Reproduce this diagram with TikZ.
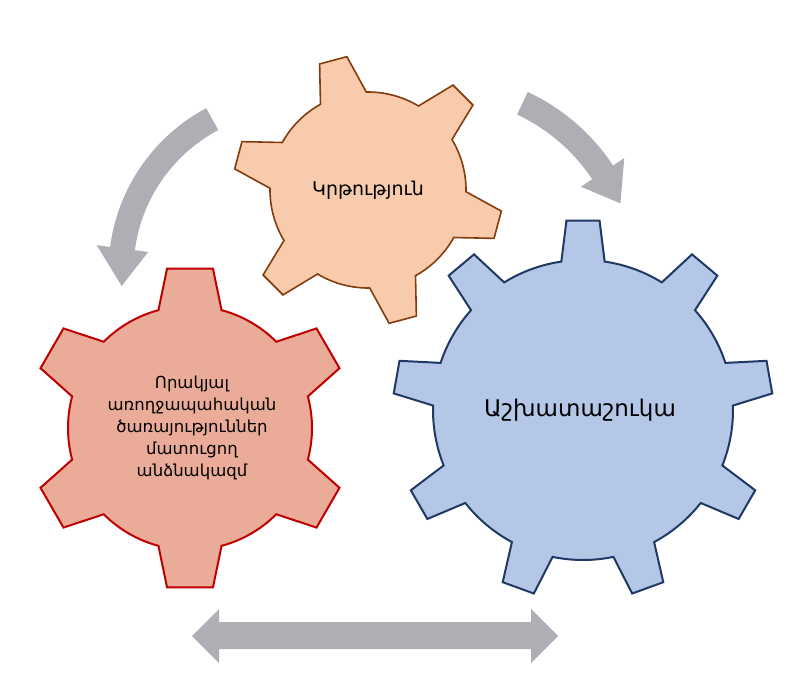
\documentclass[tikz,border=0pt]{standalone}
\usepackage{fontspec}
\setmainfont{DejaVu Sans}
\definecolor{orfill}{HTML}{F8CBAD}
\definecolor{ordraw}{HTML}{843C0C}
\definecolor{blfill}{HTML}{B4C7E7}
\definecolor{bldraw}{HTML}{203864}
\definecolor{rdfill}{HTML}{EAAB99}
\definecolor{rddraw}{HTML}{C00000}
\definecolor{arr}{HTML}{ADAFB5}
\newcommand\mygear[9]{%
\begin{scope}[shift={(#2,#3)}]
\draw[#1] ({#9-#7}:#5)
 \foreach \i in {1,...,#4}{
  -- ({#9+(\i-1)*360/#4-#7}:#5) -- ({#9+(\i-1)*360/#4-#8}:#6)
  -- ({#9+(\i-1)*360/#4+#8}:#6) -- ({#9+(\i-1)*360/#4+#7}:#5)
  arc[start angle={#9+(\i-1)*360/#4+#7}, end angle={#9+\i*360/#4-#7}, radius=#5]
 } -- cycle;
\end{scope}}
\tikzset{lbl/.style={align=center,text=black}}
\begin{document}
\begin{tikzpicture}[x=1pt,y=-1pt]
\useasboundingbox (0,0) rectangle (811,698);
% curved arrows
\begin{scope}[shift={(293,271)}]
\draw[arr,line width=25pt] (242:172) arc[start angle=242,end angle=187,radius=172];
\fill[arr] (187.5:146) -- (187.5:198) -- (175:172) -- cycle;
\end{scope}
\begin{scope}[shift={(440,280)}]
\draw[arr,line width=25pt] (-65:195) arc[start angle=-65,end angle=-33,radius=195];
\fill[arr] (-33.5:169) -- (-33.5:221) -- (-23:196) -- cycle;
\end{scope}
% double arrow
\fill[arr] (192,636) -- (219,609) -- (219,622) -- (531,622) -- (531,609) -- (558,636)
 -- (531,663) -- (531,649) -- (219,649) -- (219,663) -- cycle;
% gears
\mygear{fill=rdfill,draw=rddraw,line width=2pt}{190}{428}{6}{122}{161}{15}{8.2}{-90}
\mygear{fill=orfill,draw=ordraw,line width=1.6pt}{368}{190}{6}{98}{135}{14}{6}{15}
\mygear{fill=blfill,draw=bldraw,line width=2pt}{583}{410}{9}{150}{190}{8.3}{5}{-90}
\node[lbl,font=\fontsize{19}{22}\selectfont] (t1) at (368,190) {Կրթություն};
\node[lbl,font=\fontsize{23}{27}\selectfont] (t2) at (580,410) {Աշխատաշուկա};
\node[lbl,font=\fontsize{16.5}{22}\selectfont] (t3) at (192,428) {Որակյալ\\առողջապահական\\ծառայություններ\\մատուցող\\անձնակազմ};
\end{tikzpicture}
\end{document}
